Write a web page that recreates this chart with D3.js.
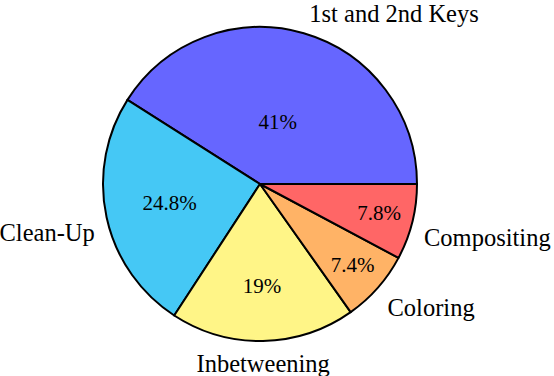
<!DOCTYPE html>
<html>
<head>
<meta charset="utf-8">
<script src="https://cdn.jsdelivr.net/npm/d3@7"></script>
<style>
  html, body { margin: 0; padding: 0; background: #fff; }
  text { font-family: "Liberation Serif", "DejaVu Serif", serif; fill: #000; }
</style>
</head>
<body>
<svg></svg>
<script>
const width = 554;
const height = 376;
const radius = 157;
const cx = 260;
const cy = 184;

const categories = ['1st and 2nd Keys', 'Clean-Up', 'Inbetweening', 'Coloring', 'Compositing'];
const values = [41, 24.8, 19, 7.4, 7.8];
const colors = ['#6666ff', '#45c8f5', '#fff587', '#ffb366', '#ff6666'];

const svg = d3.select('svg')
  .attr('width', width)
  .attr('height', height);

const g = svg.append('g')
  .attr('transform', `translate(${cx}, ${cy})`);

// pie runs counterclockwise from 3 o'clock, like the reference
const pie = d3.pie()
  .sort(null)
  .value(d => d.value)
  .startAngle(Math.PI / 2)
  .endAngle(Math.PI / 2 - 2 * Math.PI);

const data = categories.map((name, i) => ({ name, value: values[i], color: colors[i] }));
const arcs = pie(data);
const total = d3.sum(values);

const arc = d3.arc()
  .innerRadius(0)
  .outerRadius(radius);

g.selectAll('.slice')
  .data(arcs)
  .join('path')
  .classed('slice', true)
  .attr('d', arc)
  .attr('fill', d => d.data.color)
  .attr('stroke', '#000')
  .attr('stroke-width', 2)
  .attr('stroke-linejoin', 'round');

// d3 angles: 0 at 12 o'clock, clockwise
const polar = (a, r) => [r * Math.sin(a), -r * Math.cos(a)];
const mid = d => (d.startAngle + d.endAngle) / 2;

// percentages: big slices sit closer to the centre
g.selectAll('.pct')
  .data(arcs)
  .join('text')
  .classed('pct', true)
  .attr('font-size', 21)
  .attr('text-anchor', 'middle')
  .attr('dominant-baseline', 'central')
  .attr('transform', d => {
    const f = 0.87 - 1.13 * d.data.value / total;
    const [x, y] = polar(mid(d), radius * f);
    return `translate(${x}, ${y - 1})`;
  })
  .text(d => `${d.data.value}%`);

// outer labels: corner of the text box hooked to a point just outside the rim
const pad = 3;
g.selectAll('.lbl')
  .data(arcs)
  .join('text')
  .classed('lbl', true)
  .attr('font-size', 24.5)
  .each(function(d) {
    const a = mid(d);
    const [x, y] = polar(a, radius + 9);
    const sx = Math.sin(a);
    const anchor = Math.abs(sx) < 0.1 ? 'middle' : (sx > 0 ? 'start' : 'end');
    const below = Math.cos(a) < 0;
    d3.select(this)
      .attr('text-anchor', anchor)
      .attr('dominant-baseline', below ? 'text-before-edge' : 'alphabetic')
      .attr('x', x + (anchor === 'middle' ? 0 : Math.sign(sx) * pad))
      .attr('y', below ? y : y - pad);
  })
  .text(d => d.data.name);
</script>
</body>
</html>
